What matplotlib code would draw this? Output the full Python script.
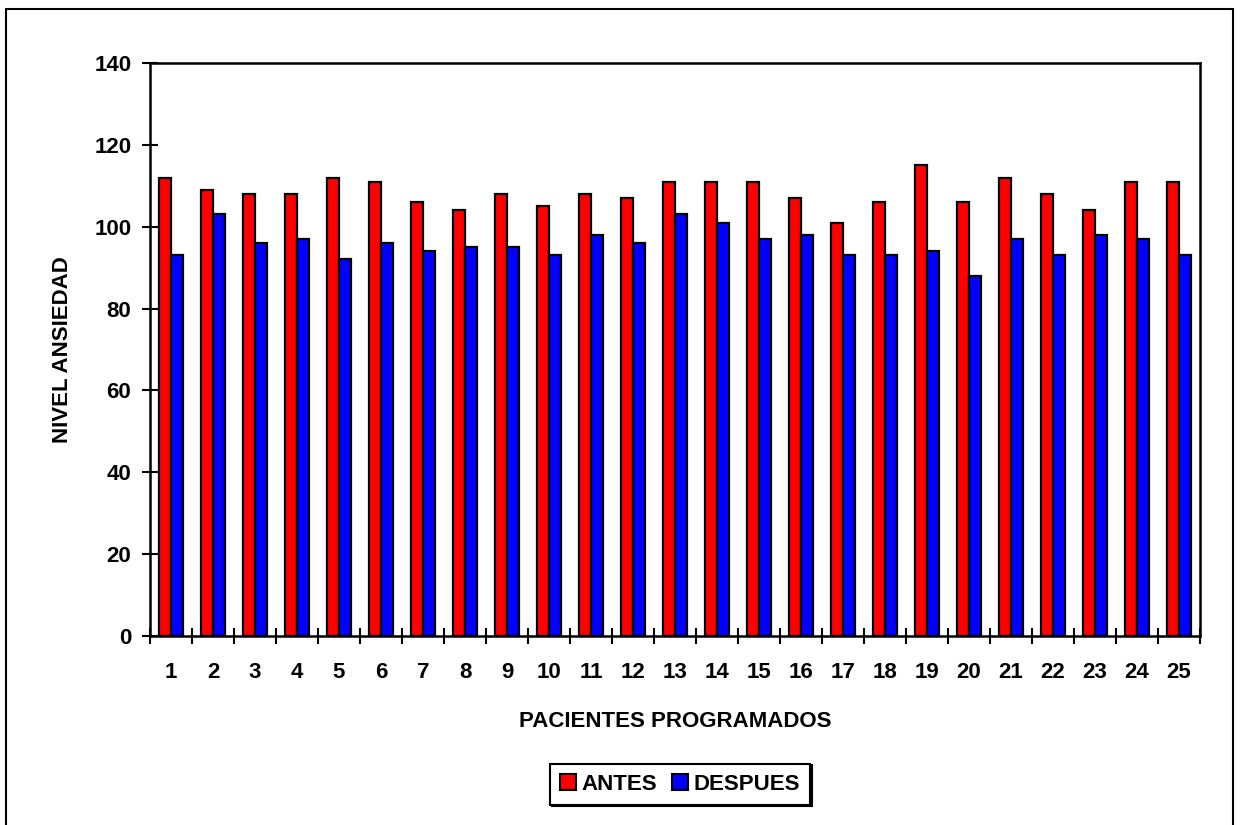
import matplotlib
matplotlib.use("Agg")
import matplotlib.pyplot as plt
from matplotlib.patches import Rectangle
from matplotlib.ticker import FixedLocator
import numpy as np

# Anxiety levels per scheduled patient, before and after
pacientes = list(range(1, 26))
antes = [112, 109, 108, 108, 112, 111, 106, 104, 108, 105, 108, 107, 111,
         111, 111, 107, 101, 106, 115, 106, 112, 108, 104, 111, 111]
despues = [93, 103, 96, 97, 92, 96, 94, 95, 95, 93, 98, 96, 103,
           101, 97, 98, 93, 93, 94, 88, 97, 93, 98, 97, 93]
y_ticks = [0, 20, 40, 60, 80, 100, 120, 140]

plt.rcParams['font.family'] = ['Liberation Sans', 'DejaVu Sans']
plt.rcParams['font.weight'] = 'bold'
FS = 16

fig = plt.figure(figsize=(12.41, 8.25), dpi=100)
ax = fig.add_axes([150 / 1241, 1 - 636 / 825, 1050 / 1241, 573 / 825])

x = np.array(pacientes, dtype=float)
w = 0.29
ax.bar(x - w / 2, antes, width=w, color='#FF0000', edgecolor='black',
       linewidth=1.6, label='ANTES', zorder=3)
ax.bar(x + w / 2, despues, width=w, color='#0000FF', edgecolor='black',
       linewidth=1.6, label='DESPUES', zorder=3)

ax.set_xlim(0.5, len(pacientes) + 0.5)
ax.set_ylim(0, 140)

# category labels at the centres, tick marks on the boundaries
ax.set_xticks(x)
ax.set_xticklabels([str(p) for p in pacientes], fontsize=FS, fontweight='bold')
ax.xaxis.set_minor_locator(FixedLocator(np.arange(0.5, len(pacientes) + 1, 1.0)))
ax.tick_params(axis='x', which='major', length=0, pad=19)
ax.tick_params(axis='x', which='minor', direction='inout', length=11, width=1.5)

ax.set_yticks(y_ticks)
ax.set_yticklabels([str(v) for v in y_ticks], fontsize=FS, fontweight='bold')
ax.tick_params(axis='y', direction='inout', length=11, width=1.5, pad=8)

for s in ax.spines.values():
    s.set_linewidth(1.8)
    s.set_color('black')

ax.set_xlabel('PACIENTES PROGRAMADOS', fontsize=FS, fontweight='bold', labelpad=20)
ax.set_ylabel('NIVEL ANSIEDAD', fontsize=FS, fontweight='bold', labelpad=15)

leg = fig.legend(loc='center', bbox_to_anchor=(680 / 1241, 1 - 784 / 825),
                 ncol=2, frameon=True, fancybox=False,
                 shadow={'ox': 1.2, 'oy': -1.2, 'color': 'black', 'alpha': 1.0},
                 edgecolor='black', framealpha=1.0,
                 prop={'size': FS, 'weight': 'bold'},
                 handlelength=0.7, handleheight=0.7, handletextpad=0.25,
                 columnspacing=0.7, borderpad=0.45, borderaxespad=0)
leg.get_frame().set_linewidth(1.5)
for h in leg.legend_handles:
    h.set_linewidth(1.5)

# outer chart border
fig.add_artist(Rectangle((6 / 1241, -0.05), 1227 / 1241, 1.05 - 9 / 825,
                         transform=fig.transFigure, fill=False,
                         edgecolor='black', linewidth=1.5))

fig.savefig('out.png', dpi=100, facecolor='white')
